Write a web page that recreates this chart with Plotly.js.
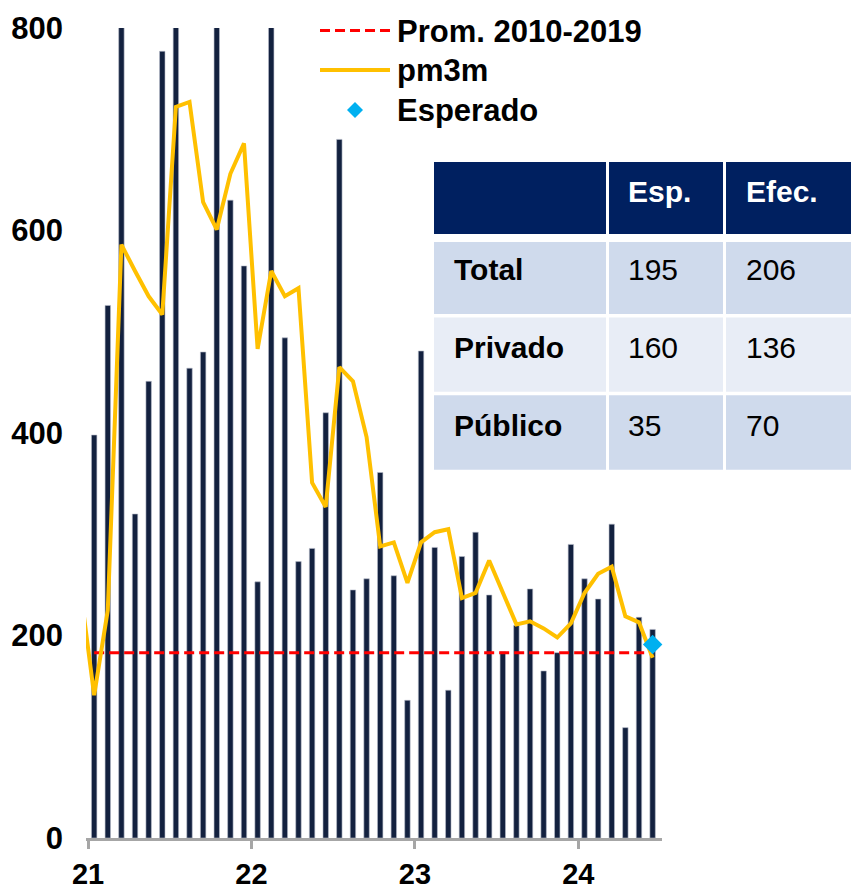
<!DOCTYPE html>
<html>
<head>
<meta charset="utf-8">
<script src="https://cdn.plot.ly/plotly-3.0.1.min.js"></script>
<style>html,body{margin:0;padding:0;background:#fff;}#chart{width:859px;height:893px;}</style>
</head>
<body>
<div id="chart"></div>
<script>
// ---- data ----
const months = ['2021-01','2021-02','2021-03','2021-04','2021-05','2021-06','2021-07','2021-08','2021-09','2021-10','2021-11','2021-12',
                '2022-01','2022-02','2022-03','2022-04','2022-05','2022-06','2022-07','2022-08','2022-09','2022-10','2022-11','2022-12',
                '2023-01','2023-02','2023-03','2023-04','2023-05','2023-06','2023-07','2023-08','2023-09','2023-10','2023-11','2023-12',
                '2024-01','2024-02','2024-03','2024-04','2024-05','2024-06'];
const barValues = [398,526,831,320,451,777,935,464,480,856,630,565,
                   253,860,494,273,286,420,690,245,256,361,259,136,
                   481,287,146,278,302,240,184,210,246,165,183,290,
                   256,236,310,109,218,206];
// pm3m starts one month earlier (Dec 2020)
const pm3mMonths = ['2020-12'].concat(months);
const pm3mValues = [245,141,225,586,560,535,517,722,727,628,601,656,686,
                    483,560,535,543,351,327,465,451,396,288,292,252,
                    292,302,305,237,242,274,243,211,214,207,198,212,
                    242,261,268,219,213,178];
const promedio = 183;            // Prom. 2010-2019
const esperadoMonth = '2024-06';
const esperadoValue = 191;
const yearTickLabels = ['21','22','23','24'];
const tableHeader = ['', 'Esp.', 'Efec.'];
const tableRows = ['Total','Privado','Público'];
const tableEsp = [195,160,35];
const tableEfec = [206,136,70];
const legendNames = ['Prom. 2010-2019','pm3m','Esperado'];

// ---- helpers ----
const base = '2021-01';
function idx(m){ const [y,mo] = m.split('-').map(Number); const [by,bm] = base.split('-').map(Number); return (y-by)*12 + (mo-bm); }
const L = 86, R = 662, T = 28, B = 838.3;
const px = x => (x - L) / (R - L);
const py = y => (B - y) / (B - T);

const FONT = 'Arial, "Liberation Sans", sans-serif';
const NAVY = '#13213F';
const YELLOW = '#FFC000';
const RED = '#FF0000';
const CYAN = '#00B0F0';

const traces = [
  {type:'bar', x: months.map(idx), y: barValues, width: 0.4,
   marker:{color: NAVY, line:{color:'#B8BECB', width:0.6}}, showlegend:false, hoverinfo:'skip'},
  {type:'scatter', mode:'lines', x: months.map(idx), y: months.map(()=>promedio),
   line:{color: RED, width:3, dash:'10px,5px'}, showlegend:false, hoverinfo:'skip'},
  {type:'scatter', mode:'lines', x: pm3mMonths.map(idx), y: pm3mValues,
   line:{color: YELLOW, width:4}, showlegend:false, hoverinfo:'skip'},
  {type:'scatter', mode:'markers', x: [idx(esperadoMonth)], y: [esperadoValue],
   marker:{symbol:'diamond', color: CYAN, size:15}, showlegend:false, hoverinfo:'skip', cliponaxis:false}
];

const shapes = [];
const annotations = [];

// manual legend
const legY = [30.5, 70, 110];
shapes.push({type:'line', xref:'paper', yref:'paper', x0:px(320), x1:px(390), y0:py(legY[0]), y1:py(legY[0]),
             line:{color:RED, width:3, dash:'10px,5px'}});
shapes.push({type:'line', xref:'paper', yref:'paper', x0:px(320), x1:px(390), y0:py(legY[1]), y1:py(legY[1]),
             line:{color:YELLOW, width:4}});
shapes.push({type:'path', xref:'paper', yref:'paper',
             path:`M ${px(355)} ${py(legY[2]-8)} L ${px(363)} ${py(legY[2])} L ${px(355)} ${py(legY[2]+8)} L ${px(347)} ${py(legY[2])} Z`,
             fillcolor:CYAN, line:{width:0}});
legendNames.forEach((n,i)=>{
  annotations.push({xref:'paper', yref:'paper', x:px(395), y:py(legY[i]+1), xanchor:'left', yanchor:'middle',
    text:n, showarrow:false, font:{family:FONT, size:31, color:'#000', weight:700}});
});

// table
const colX = [[434,606],[609,723],[726,851]];
const rowY = [[162,234],[242,314],[317.5,392],[395.5,470]];
const rowFill = ['#002060','#CFDAEC','#E8EDF6','#CFDAEC'];
const textX = [452, 626, 744];
const textYC = [190, 267.5, 345.5, 424];
rowY.forEach((r,ri)=>{
  colX.forEach(c=>{
    shapes.push({type:'rect', xref:'paper', yref:'paper', x0:px(c[0]), x1:px(c[1]), y0:py(r[0]), y1:py(r[1]),
                 fillcolor: rowFill[ri], line:{width:0}, layer:'above'});
  });
});
tableHeader.forEach((h,ci)=>{
  if(!h) return;
  annotations.push({xref:'paper', yref:'paper', x:px(textX[ci]), y:py(textYC[0]+2), xanchor:'left', yanchor:'middle',
    text:h, showarrow:false, font:{family:FONT, size:30, color:'#fff', weight:700}});
});
tableRows.forEach((name,ri)=>{
  const yc = textYC[ri+1]+2;
  annotations.push({xref:'paper', yref:'paper', x:px(textX[0]), y:py(yc), xanchor:'left', yanchor:'middle',
    text:name, showarrow:false, font:{family:FONT, size:30, color:'#000', weight:700}});
  annotations.push({xref:'paper', yref:'paper', x:px(textX[1]), y:py(yc), xanchor:'left', yanchor:'middle',
    text:String(tableEsp[ri]), showarrow:false, font:{family:FONT, size:30, color:'#000'}});
  annotations.push({xref:'paper', yref:'paper', x:px(textX[2]), y:py(yc), xanchor:'left', yanchor:'middle',
    text:String(tableEfec[ri]), showarrow:false, font:{family:FONT, size:30, color:'#000'}});
});

const layout = {
  width:859, height:893,
  margin:{l:L, r:859-R, t:T, b:893-B},
  paper_bgcolor:'#fff', plot_bgcolor:'#fff',
  showlegend:false,
  bargap:0,
  xaxis:{range:[-0.6, 41.69], showgrid:false, zeroline:false,
         showline:true, linecolor:'#A6A6A6', linewidth:3,
         ticks:'outside', ticklen:8, tickwidth:3, tickcolor:'#A6A6A6',
         tickvals: yearTickLabels.map(t=>idx('20'+t+'-01')-0.45), ticktext: yearTickLabels,
         tickfont:{family:FONT, size:29, color:'#000', weight:700}, ticklabelstandoff:0},
  yaxis:{range:[0,800], tickvals:[0,200,400,600,800], showgrid:false, zeroline:false, showline:false,
         ticks:'', tickfont:{family:FONT, size:31, color:'#000', weight:700}, ticklabelstandoff:22},
  shapes: shapes,
  annotations: annotations
};

Plotly.newPlot('chart', traces, layout, {displayModeBar:false, staticPlot:true});
</script>
</body>
</html>
